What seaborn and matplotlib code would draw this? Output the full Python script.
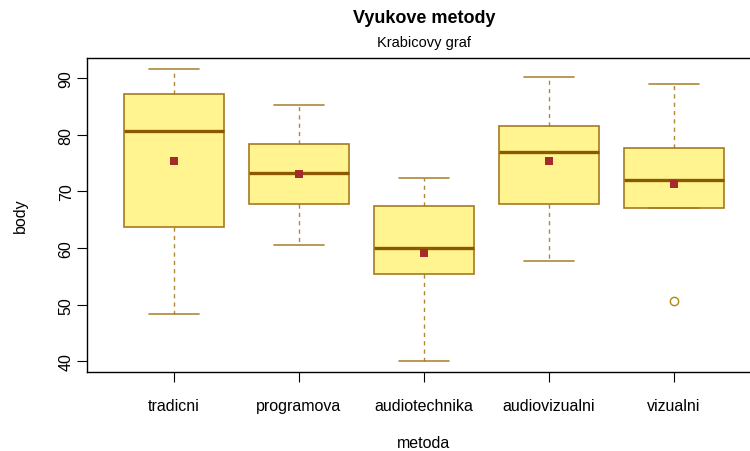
import matplotlib
matplotlib.use("Agg")
import matplotlib.pyplot as plt
import seaborn as sns

# values
categories = ["tradicni", "programova", "audiotechnika", "audiovizualni", "vizualni"]
whisker_low = [48.4, 60.5, 40.1, 57.7, 67.1]
quartile_1 = [63.8, 67.7, 55.5, 67.8, 67.1]
medians = [80.7, 73.3, 60.1, 76.9, 72.1]
quartile_3 = [87.2, 78.4, 67.4, 81.6, 77.7]
whisker_high = [91.6, 85.3, 72.4, 90.3, 88.9]
means = [75.4, 73.1, 59.2, 75.3, 71.3]
outliers = [[], [], [], [], [50.6]]
y_ticks = [40, 50, 60, 70, 80, 90]

sns.set_style("white")
plt.rcParams["font.family"] = ["Liberation Sans", "DejaVu Sans"]
plt.rcParams["text.color"] = "black"
plt.rcParams["axes.labelcolor"] = "black"
plt.rcParams["xtick.color"] = "black"
plt.rcParams["ytick.color"] = "black"

FILL = "#fff48f"
EDGE = "#a57a22"
MEDIAN = "#8b5a00"
MEAN = "#a52a2a"

fig = plt.figure(figsize=(7.5, 4.52), dpi=100)
ax = fig.add_axes([86.5 / 750, 1 - 373.4 / 452, 675 / 750, (373.4 - 58.5) / 452])

stats = []
for i, name in enumerate(categories):
    stats.append({
        "label": name,
        "whislo": whisker_low[i],
        "q1": quartile_1[i],
        "med": medians[i],
        "q3": quartile_3[i],
        "whishi": whisker_high[i],
        "fliers": outliers[i],
    })

ax.bxp(stats, positions=range(len(categories)), widths=0.8, patch_artist=True,
       boxprops=dict(facecolor=FILL, edgecolor=EDGE, linewidth=1.2),
       medianprops=dict(color=MEDIAN, linewidth=2.4, solid_capstyle="butt"),
       whiskerprops=dict(color=EDGE, linewidth=1.0, linestyle=(0, (3, 3)), alpha=0.9),
       capprops=dict(color=EDGE, linewidth=1.2, alpha=0.9),
       capwidths=0.4,
       flierprops=dict(marker="o", markerfacecolor="none", markeredgecolor="#b8860b",
                       markersize=6, markeredgewidth=1.0))

# group means as red squares
sns.stripplot(x=categories, y=means, ax=ax, jitter=False, marker="s", size=6,
              color=MEAN, linewidth=0, zorder=5)

ax.set_xlim(-0.7, 4.7)
ax.set_ylim(38.04, 93.66)
ax.set_xticks(range(len(categories)))
ax.set_xticklabels(categories, fontsize=11.5)
ax.set_yticks(y_ticks)
ax.set_yticklabels([str(v) for v in y_ticks], rotation=90, va="center", fontsize=11.5)
ax.tick_params(axis="x", length=7.2, width=0.8, pad=11, bottom=True)
ax.tick_params(axis="y", length=7.2, width=0.8, pad=2, left=True)

for side in ["left", "bottom", "top"]:
    ax.spines[side].set_visible(True)
    ax.spines[side].set_color("black")
    ax.spines[side].set_linewidth(1.0)
ax.spines["right"].set_visible(False)

ax.set_xlabel("metoda", fontsize=11.5, labelpad=16)
ax.set_ylabel("body", fontsize=11.5, labelpad=22)

ax.text(0.5, 1 + 40 / 315, "Vyukove metody", transform=ax.transAxes, ha="center",
        va="center", fontsize=13, fontweight="bold")
ax.text(0.5, 1 + 16 / 315, "Krabicovy graf", transform=ax.transAxes, ha="center",
        va="center", fontsize=10.5)

fig.savefig("out.png", dpi=100)
